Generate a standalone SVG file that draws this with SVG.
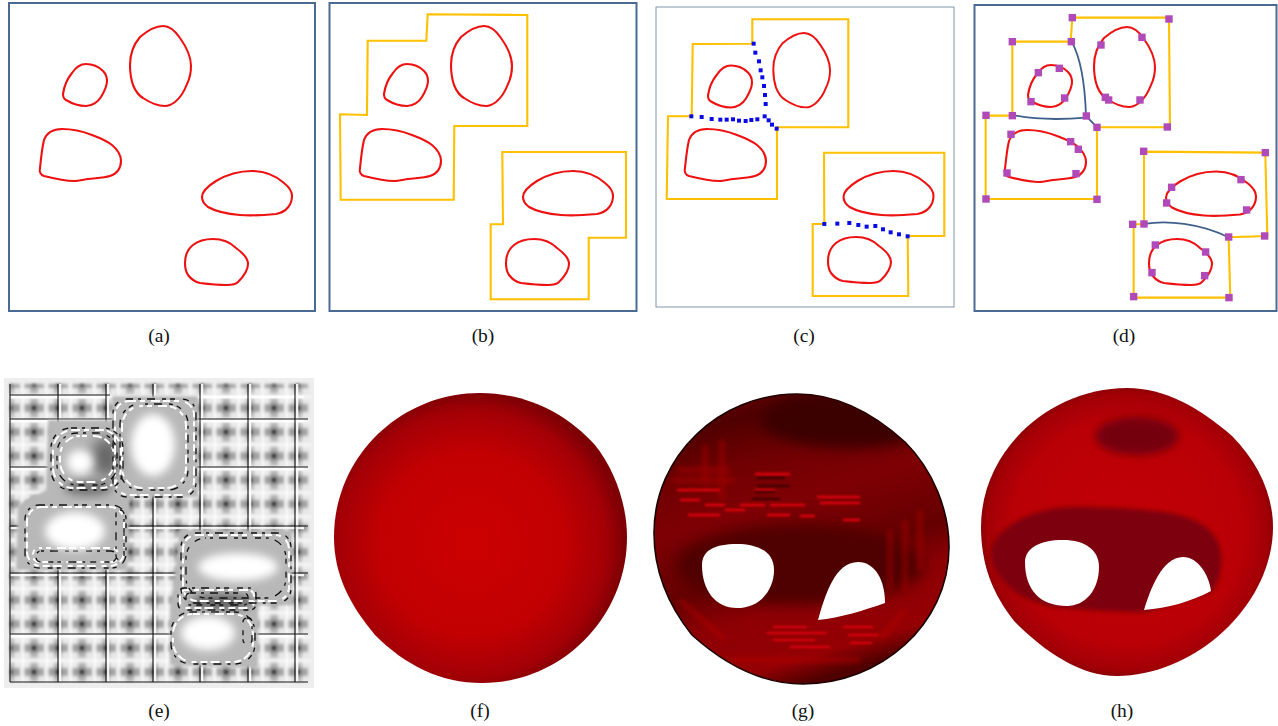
<svg xmlns="http://www.w3.org/2000/svg" width="1278" height="726" viewBox="0 0 1278 726">
<style>
.frame{fill:#fff;stroke:#4a6a94;stroke-width:2}
.blob{fill:none;stroke:#ee1111;stroke-width:2.1}
.yel{fill:none;stroke:#ffc000;stroke-width:2.1;stroke-linejoin:miter}
.cur{fill:none;stroke:#3f5f8a;stroke-width:1.8}
.pur{fill:#b04ab8}
.blu{fill:#0a0ae6}
.cap{font-family:"Liberation Serif","Times New Roman",serif;font-size:19.5px;fill:#111;text-anchor:middle}
.dk{fill:none;stroke:#111;stroke-width:1.3;stroke-dasharray:6 5 3 6 8 7 4 4 5 8}
.wt{fill:none;stroke:#fff;stroke-width:2;stroke-dasharray:7 4 5 6 9 3}
.hole{fill:#fff}
</style>
<defs>
<path id="b1" d="M63,94 C64,87 67,79 72,73 C76,67 81,64 86,64 C92,64 98,66 103,71 C106,74 107,77 107,81 C107,87 104,92 101,97 C98,102 92,106 86,106 C79,106 71,103 66,100 C64,99 63,97 63,94Z"/>
<path id="b2" d="M130,65 C130,52 134,44 140,37 C147,31 155,26 163,26 C171,26 176,32 180,38 C185,45 191,55 191,66 C191,72 190,78 187,84 C184,92 180,98 175,102 C171,105 168,106 165,106 C158,106 149,102 143,98 C138,95 135,90 133,85 C131,79 130,72 130,65Z"/>
<path id="b3" d="M40,168 C41,158 42,148 44,140 C47,132 53,129 62,129 C72,129 82,131 92,135 C100,138 107,141 112,145 C118,150 121,155 121,161 C121,168 117,174 110,176 C103,178 95,178 88,179 C82,180 78,181 74,181 C64,181 52,178 44,176 C41,175 39,172 40,168Z"/>
<path id="b4" d="M202,197 C202,191 208,186 216,181 C226,175 240,171 252,171 C264,171 276,176 284,183 C289,187 292,191 292,196 C292,204 287,212 276,214 C265,215 252,216 240,215 C228,214 215,211 208,207 C204,204 202,201 202,197Z"/>
<path id="b5" d="M185,263 C185,255 188,249 193,245 C198,241 205,239 213,239 C222,239 230,242 236,248 C243,253 248,258 248,264 C248,270 243,277 238,282 C235,285 231,285 227,285 C218,285 208,284 200,283 C195,282 191,279 188,275 C186,272 185,268 185,263Z"/>
<rect id="s" x="-3.7" y="-3.7" width="7.4" height="7.4"/>
<rect id="q" x="-2" y="-2" width="4" height="4"/>
<path id="gshape" d="M654,533 C654,455 720,394 797,394 C835,394 872,412 905,442 C933,470 949,510 949,547 C949,625 880,684 803,684 C760,684 722,662 692,635 C668,605 654,570 654,533Z"/>
<clipPath id="gclip"><use href="#gshape"/></clipPath>
<filter id="bl4" x="-30%" y="-30%" width="160%" height="160%"><feGaussianBlur stdDeviation="4"/></filter>
<filter id="bl2" x="-10%" y="-10%" width="120%" height="120%"><feGaussianBlur stdDeviation="2.5"/></filter>
<filter id="bl7" x="-50%" y="-50%" width="200%" height="200%"><feGaussianBlur stdDeviation="7"/></filter>
<filter id="bl1" x="-5%" y="-5%" width="110%" height="110%"><feGaussianBlur stdDeviation="1.5"/></filter>
<filter id="bls" x="-5%" y="-5%" width="110%" height="110%"><feGaussianBlur stdDeviation="0.4"/></filter>
<filter id="blm" x="-5%" y="-5%" width="110%" height="110%"><feGaussianBlur stdDeviation="0.9"/></filter>
<pattern id="cells" patternUnits="userSpaceOnUse" x="22" y="396" width="24" height="24">
<rect width="24" height="24" fill="#e8e8e8"/>
<rect x="2" y="8" width="20" height="8" fill="#a4a4a4"/>
<rect x="8" y="2" width="8" height="20" fill="#bcbcbc"/>
<circle cx="12" cy="12" r="6.5" fill="#a0a0a0"/>
<circle cx="12" cy="12" r="3" fill="#333"/>
<rect x="0" y="0" width="24" height="2" fill="#fff"/>
<rect x="0" y="0" width="2" height="24" fill="#fff"/>
</pattern>
<radialGradient id="gf" cx="0.47" cy="0.52" r="0.52">
<stop offset="0" stop-color="#cb0000"/><stop offset="0.6" stop-color="#c20002"/><stop offset="0.88" stop-color="#a30006"/><stop offset="1" stop-color="#7e0004"/>
</radialGradient>
<radialGradient id="gh" cx="0.5" cy="0.5" r="0.52">
<stop offset="0" stop-color="#c20006"/><stop offset="0.75" stop-color="#b90006"/><stop offset="0.92" stop-color="#a20006"/><stop offset="1" stop-color="#7c0004"/>
</radialGradient>
<linearGradient id="gg" x1="0.2" y1="0" x2="0.5" y2="1">
<stop offset="0" stop-color="#6a0002"/><stop offset="0.1" stop-color="#500000"/><stop offset="0.25" stop-color="#700002"/><stop offset="0.4" stop-color="#7e0004"/><stop offset="0.62" stop-color="#640000"/><stop offset="0.74" stop-color="#8c0004"/><stop offset="0.92" stop-color="#940004"/><stop offset="1" stop-color="#500000"/>
</linearGradient>
</defs>

<g id="panel-a">
<rect class="frame" x="9" y="3" width="306" height="308"/>
<g class="blob"><use href="#b1"/><use href="#b2"/><use href="#b3"/><use href="#b4"/><use href="#b5"/></g>
<text class="cap" x="159" y="342">(a)</text>
</g>

<g id="panel-b">
<rect class="frame" x="329.5" y="3" width="307" height="308"/>
<g class="blob" transform="translate(321,0)"><use href="#b1"/><use href="#b2"/><use href="#b3" x="-1"/><use href="#b4"/><use href="#b5"/></g>
<path class="yel" d="M427.7,14.3 L527.3,15 L527.3,126 L454.3,126 L453.7,199.7 L340.7,199.7 L340,114.3 L367,115 L367.7,40.7 L426.3,40.7Z"/>
<path class="yel" d="M502.3,152 L626,152 L626,237.7 L588.7,237.7 L588.7,299.3 L490.7,299.3 L490.7,224.3 L503,224.3Z"/>
<text class="cap" x="483" y="342">(b)</text>
</g>

<g id="panel-c">
<rect x="656" y="7" width="298" height="300" fill="#fff" stroke="#7f97ad" stroke-width="1"/>
<g class="blob"><use href="#b1" transform="translate(645,1.5)"/><use href="#b2" transform="translate(652.4,8.8) scale(.93)"/><use href="#b3" transform="translate(645,0)"/><use href="#b4" transform="translate(641.5,0)"/><use href="#b5" transform="translate(643,-2)"/></g>
<path class="yel" d="M752.3,43.7 L752.3,19.3 L848.3,19.3 L848.3,127.3 L777,127.3 L777,199 L666.7,199 L668,116.3 L691.7,116.3 L692.7,44Z"/>
<path class="yel" d="M824.3,224 L824,152.7 L944.3,152.7 L944.3,236 L907.7,236 L908.3,296 L812.7,296 L812.7,224Z"/>
<g id="blue-dots" class="blu" transform="translate(650,0) scale(.3333)">
<use href="#q" transform="translate(311,131) scale(3)"/><use href="#q" transform="translate(316,158) scale(3)"/><use href="#q" transform="translate(327,184) scale(3)"/><use href="#q" transform="translate(332,211) scale(3)"/><use href="#q" transform="translate(337,232) scale(3)"/><use href="#q" transform="translate(342,258) scale(3)"/><use href="#q" transform="translate(345,285) scale(3)"/><use href="#q" transform="translate(347,312) scale(3)"/><use href="#q" transform="translate(344,349) scale(3)"/><use href="#q" transform="translate(356,361) scale(3)"/><use href="#q" transform="translate(366,374) scale(3)"/><use href="#q" transform="translate(380,386) scale(3)"/>
<use href="#q" transform="translate(124,349) scale(3)"/><use href="#q" transform="translate(155,351) scale(3)"/><use href="#q" transform="translate(185,357) scale(3)"/><use href="#q" transform="translate(211,359) scale(3)"/><use href="#q" transform="translate(230,359) scale(3)"/><use href="#q" transform="translate(249,358) scale(3)"/><use href="#q" transform="translate(267,362) scale(3)"/><use href="#q" transform="translate(287,363) scale(3)"/><use href="#q" transform="translate(304,360) scale(3)"/><use href="#q" transform="translate(322,358) scale(3)"/>
<use href="#q" transform="translate(523,672) scale(3)"/><use href="#q" transform="translate(562,671) scale(3)"/><use href="#q" transform="translate(598,669) scale(3)"/><use href="#q" transform="translate(625,675) scale(3)"/><use href="#q" transform="translate(650,680) scale(3)"/><use href="#q" transform="translate(676,678) scale(3)"/><use href="#q" transform="translate(699,688) scale(3)"/><use href="#q" transform="translate(722,697) scale(3)"/><use href="#q" transform="translate(747,703) scale(3)"/><use href="#q" transform="translate(773,709) scale(3)"/>
</g>
<text class="cap" x="804" y="342">(c)</text>
</g>

<g id="panel-d">
<rect class="frame" x="974.5" y="5" width="302" height="306"/>
<g class="blob"><use href="#b1" transform="translate(965,1)"/><use href="#b2" transform="translate(964,1)"/><use href="#b3" transform="translate(965,1)"/><use href="#b4" transform="translate(964,0.5)"/><use href="#b5" transform="translate(964,0)"/></g>
<g class="yel" transform="translate(970,0) scale(.3333)" style="stroke-width:6.3">
<path d="M381,382 L600,382 L597,53 L307,53 L302,125 L127,125 L127,347 L47,347 L47,597 L381,597Z"/>
<path d="M522,673 L522,455 L886,458 L892,708 L776,712 L781,893 L491,893 L491,673Z"/>
</g>
<g id="connectors" class="cur" transform="translate(970,0) scale(.3333)" style="stroke-width:5.4">
<path d="M305,125 C330,170 345,250 348,348 L381,382"/>
<path d="M127,345 C200,360 290,358 348,353"/>
<path d="M523,672 C590,660 690,670 776,712"/>
</g>
<g id="handles" class="pur" transform="translate(970,0) scale(.3333)">
<use href="#s" transform="translate(307,53) scale(3)"/><use href="#s" transform="translate(597,57) scale(3)"/><use href="#s" transform="translate(127,125) scale(3)"/><use href="#s" transform="translate(304,125) scale(3)"/><use href="#s" transform="translate(393,135) scale(3)"/><use href="#s" transform="translate(516,112) scale(3)"/><use href="#s" transform="translate(205,218) scale(3)"/><use href="#s" transform="translate(268,205) scale(3)"/><use href="#s" transform="translate(183,305) scale(3)"/><use href="#s" transform="translate(284,294) scale(3)"/><use href="#s" transform="translate(406,292) scale(3)"/><use href="#s" transform="translate(416,300) scale(3)"/><use href="#s" transform="translate(510,300) scale(3)"/><use href="#s" transform="translate(48,346) scale(3)"/><use href="#s" transform="translate(127,347) scale(3)"/><use href="#s" transform="translate(349,348) scale(3)"/><use href="#s" transform="translate(381,382) scale(3)"/><use href="#s" transform="translate(592,381) scale(3)"/><use href="#s" transform="translate(123,403) scale(3)"/><use href="#s" transform="translate(302,425) scale(3)"/><use href="#s" transform="translate(325,448) scale(3)"/><use href="#s" transform="translate(111,519) scale(3)"/><use href="#s" transform="translate(318,521) scale(3)"/><use href="#s" transform="translate(48,597) scale(3)"/><use href="#s" transform="translate(381,598) scale(3)"/><use href="#s" transform="translate(521,454) scale(3)"/><use href="#s" transform="translate(886,458) scale(3)"/><use href="#s" transform="translate(813,539) scale(3)"/><use href="#s" transform="translate(605,562) scale(3)"/><use href="#s" transform="translate(590,609) scale(3)"/><use href="#s" transform="translate(830,630) scale(3)"/><use href="#s" transform="translate(488,673) scale(3)"/><use href="#s" transform="translate(522,672) scale(3)"/><use href="#s" transform="translate(776,711) scale(3)"/><use href="#s" transform="translate(884,708) scale(3)"/><use href="#s" transform="translate(556,735) scale(3)"/><use href="#s" transform="translate(707,756) scale(3)"/><use href="#s" transform="translate(546,818) scale(3)"/><use href="#s" transform="translate(704,827) scale(3)"/><use href="#s" transform="translate(491,890) scale(3)"/><use href="#s" transform="translate(777,893) scale(3)"/>
</g>
<text class="cap" x="1124" y="342">(d)</text>
</g>

<g id="panel-e">
<rect x="4" y="378" width="310" height="310" fill="#eeeeee"/>
<rect x="10" y="384" width="300" height="298" fill="url(#cells)" filter="url(#bl1)"/>
<g stroke="#fff" stroke-width="2.6" fill="none" opacity=".9" filter="url(#bls)">
<path d="M10,397H304M10,421H304M10,469H304M10,528H304M10,575H304M10,636H304M60,384V682M108,384V682M155,384V682M202,384V682M250,384V682M297,384V682"/>
</g>
<g stroke="#111" stroke-width="1.1" fill="none" filter="url(#bls)">
<path d="M10,395H110M10,419H308M10,467H308M10,526H308M10,573H308M10,634H308M10,682H308"/>
<path d="M10,384V682M58,384V682M106,384V682M153,384V682M200,384V682M248,384V682M295,384V682"/>
</g>
<g fill="#b8b8b8" filter="url(#bl1)">
<path d="M112,396 L198,396 L198,497 L130,497 L127,570 L16,570 L18,505 L46,490 L48,420 L112,420Z"/>
<path d="M180,530 L292,530 L292,605 L258,605 L258,668 L170,665 L170,610Z"/>
</g>
<ellipse cx="106" cy="457" rx="14" ry="20" fill="#666" filter="url(#bl7)"/>
<ellipse cx="88" cy="488" rx="24" ry="8" fill="#777" filter="url(#bl4)"/>
<ellipse cx="222" cy="602" rx="32" ry="8" fill="#666" filter="url(#bl4)"/>
<g filter="url(#bls)">
<g class="wt">
<rect x="115" y="401" width="79" height="94" rx="14"/>
<rect x="122" y="406" width="64" height="82" rx="20" stroke-dashoffset="6"/>
<rect x="53" y="430" width="68" height="58" rx="20"/>
<rect x="60" y="436" width="54" height="46" rx="20" stroke-dashoffset="9"/>
<rect x="27" y="507" width="97" height="59" rx="14"/>
<rect x="33" y="548" width="85" height="14" rx="6" stroke-dashoffset="4"/>
<rect x="183" y="535" width="106" height="66" rx="14"/>
<rect x="180" y="590" width="74" height="18" rx="6" stroke-dashoffset="3"/>
<rect x="173" y="614" width="80" height="48" rx="20"/>
</g>
<g class="dk">
<rect x="113" y="399" width="83" height="98" rx="14"/>
<rect x="120" y="404" width="68" height="86" rx="20" stroke-dashoffset="6"/>
<rect x="51" y="428" width="72" height="62" rx="20"/>
<rect x="57" y="433" width="60" height="52" rx="20" stroke-dashoffset="5"/>
<rect x="25" y="505" width="101" height="63" rx="14"/>
<rect x="36" y="551" width="80" height="11" rx="5" stroke-dashoffset="11"/>
<rect x="116" y="510" width="8" height="50" rx="4"/>
<rect x="181" y="533" width="110" height="70" rx="14"/>
<rect x="186" y="538" width="100" height="60" rx="20" stroke-dashoffset="7"/>
<rect x="178" y="588" width="78" height="22" rx="6" stroke-dashoffset="3"/>
<rect x="186" y="593" width="62" height="12" rx="4"/>
<rect x="171" y="612" width="84" height="52" rx="20"/>
<rect x="243" y="618" width="9" height="26" rx="4"/>
</g>
</g>
<g fill="#fff" filter="url(#bl4)">
<ellipse cx="153" cy="445" rx="22" ry="31"/>
<ellipse cx="80" cy="462" rx="13" ry="12"/>
<ellipse cx="75" cy="531" rx="30" ry="19"/>
<ellipse cx="238" cy="567" rx="40" ry="14"/>
<ellipse cx="208" cy="633" rx="27" ry="17"/>
</g>
<text class="cap" x="159" y="717">(e)</text>
</g>

<g id="panel-f">
<path fill="url(#gf)" d="M334,537 C334,457 400,393 480,393 C525,393 565,412 595,445 C615,470 627,505 627,537 C627,617 562,683 482,683 C440,683 405,665 375,635 C350,605 334,575 334,537Z"/>
<text class="cap" x="480" y="717">(f)</text>
</g>

<g id="panel-g">
<use href="#gshape" fill="url(#gg)" stroke="#1a0000" stroke-width="1.6"/>
<g clip-path="url(#gclip)">
<ellipse cx="850" cy="420" rx="90" ry="28" fill="#3a0000" filter="url(#bl7)"/>
<ellipse cx="800" cy="565" rx="125" ry="40" fill="#4f0000" filter="url(#bl7)"/>
<g fill="none" stroke="#c00006" stroke-width="5" opacity=".45" filter="url(#bl2)">
<path d="M677,470H730M672,480H735M705,445V485M722,440V500M890,530V590M905,520V590M920,510V570M680,600L725,640M730,660H860M880,640L905,610"/>
</g>
<g fill="none" stroke="#e0000a" stroke-width="2.4" filter="url(#blm)">
<path d="M677,490H720M680,500H700M688,515H720M705,505H725M725,510H745M755,474H790M755,490H775M740,505H765M770,505H805M767,515H790M817,497H860M820,503H860M800,516H815M843,520H860"/>
<path d="M773,627H807M767,633H827M773,640H815M790,647H830M843,627H873M848,635H878M850,643H872" stroke-width="1.8"/>
</g>
<g fill="none" stroke="#2a0000" stroke-width="1.4" filter="url(#blm)">
<path d="M757,478H785M757,486H790M755,492H775M752,499H780"/>
</g>
</g>
<path class="hole" d="M702,565 C702,550 715,544 737,544 C755,544 774,550 774,570 C774,590 760,608 737,608 C715,608 702,590 702,565Z"/>
<path class="hole" d="M818,620 C825,595 835,562 858,562 C875,562 885,580 885,603 C865,610 840,618 818,620Z"/>
<text class="cap" x="803" y="717">(g)</text>
</g>

<g id="panel-h">
<path fill="url(#gh)" d="M981,527 C981,450 1050,388 1127,388 C1165,388 1200,408 1232,436 C1258,462 1273,495 1273,527 C1273,605 1195,676 1117,676 C1080,676 1045,652 1015,622 C993,595 981,565 981,527Z"/>
<ellipse cx="1137" cy="436" rx="42" ry="19" fill="#75000a" filter="url(#bl4)"/>
<path fill="#7c0008" filter="url(#bl2)" d="M992,547 C1000,525 1035,507 1075,507 C1110,507 1145,509 1170,513 C1195,518 1215,528 1220,548 C1224,565 1218,585 1212,592 L1147,612 C1120,612 1085,610 1053,607 C1035,603 1020,597 1010,587 C1000,578 989,565 992,547Z"/>
<path class="hole" d="M1025,562 C1025,548 1040,540 1063,540 C1085,540 1099,550 1099,567 C1099,590 1085,606 1067,606 C1040,606 1025,590 1025,562Z"/>
<path class="hole" d="M1144,610 C1150,590 1162,557 1183,557 C1198,557 1209,575 1211,591 C1190,602 1168,608 1144,610Z"/>
<text class="cap" x="1122" y="717">(h)</text>
</g>
</svg>
